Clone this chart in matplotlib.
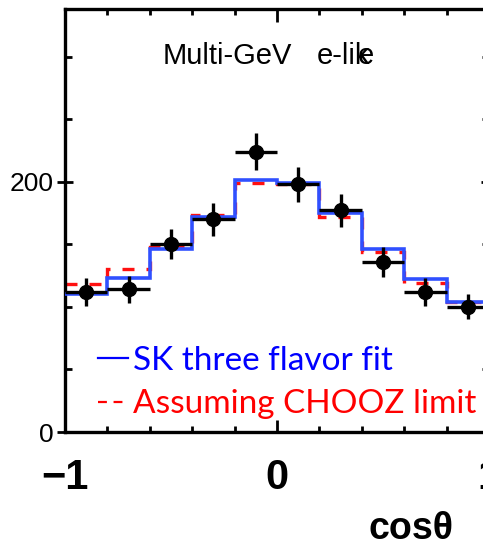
import matplotlib
matplotlib.use('Agg')
import matplotlib.pyplot as plt
from matplotlib.lines import Line2D
from matplotlib.ticker import MultipleLocator, FixedLocator
import numpy as np

# Multi-GeV e-like zenith angle distribution
bin_edges = [-1.0, -0.8, -0.6, -0.4, -0.2, 0.0, 0.2, 0.4, 0.6, 0.8, 1.0]
bin_centers = [-0.9, -0.7, -0.5, -0.3, -0.1, 0.1, 0.3, 0.5, 0.7, 0.9]
data_counts = [112, 114, 150, 170, 224, 198, 177, 136, 112, 100]
data_errors = [11, 11, 12, 13, 15, 14, 13, 12, 11, 10]
sk_fit = [110, 123, 146, 172, 201, 199, 175, 146, 122, 104]
chooz = [118, 130, 148, 173, 199, 198, 172, 144, 119, 104]

fig = plt.figure(figsize=(4.83, 5.49), dpi=100)
# axes runs past the right edge of the picture, like the cropped original
ax = fig.add_axes([65 / 483, 1 - 432 / 549, 424 / 483, 423 / 549])

# red under blue, points on top
ax.stairs(chooz, bin_edges, baseline=None, color='#ff1010', linewidth=2.4,
          linestyle=(0, (3.6, 3.6)), zorder=2)
ax.stairs(sk_fit, bin_edges, baseline=None, color='#3050ff', linewidth=2.6, zorder=3)
ax.errorbar(bin_centers, data_counts, yerr=data_errors, xerr=0.1, fmt='o', color='black',
            markersize=10, elinewidth=2.4, capsize=0, zorder=4)

ax.set_xlim(-1, 1)
ax.set_ylim(0, 338)

for side in ['left', 'bottom', 'top', 'right']:
    ax.spines[side].set_linewidth(2.4)

ax.xaxis.set_major_locator(FixedLocator([-1, 0, 1]))
ax.xaxis.set_minor_locator(MultipleLocator(0.2))
ax.yaxis.set_major_locator(FixedLocator([0, 200]))
ax.yaxis.set_minor_locator(MultipleLocator(50))
ax.tick_params(axis='x', which='major', direction='in', length=9, width=2, top=True, pad=19)
ax.tick_params(axis='x', which='minor', direction='in', length=4.5, width=2, top=True)
ax.tick_params(axis='y', which='major', direction='inout', length=12, width=2, right=True, pad=2)
ax.tick_params(axis='y', which='minor', direction='in', length=5, width=2, right=True)
ax.set_xticklabels(['\u22121', '0', '1'], fontsize=30, fontweight='bold', family='Liberation Sans')
ax.set_yticklabels(['0', '200'], fontsize=19, family='Liberation Sans')

# title, with the overlapping last letter of the original
ax.text((163 - 65) / 424, 0.889, 'Multi-GeV', transform=ax.transAxes, fontsize=21,
        family='Liberation Sans', va='center', ha='left')
ax.text((317 - 65) / 424, 0.889, 'e-lik', transform=ax.transAxes, fontsize=21,
        family='Liberation Sans', va='center', ha='left')
ax.text((358 - 65) / 424, 0.889, 'e', transform=ax.transAxes, fontsize=21,
        family='Liberation Sans', va='center', ha='left')

fig.text(368 / 483, 1 - 529 / 549, 'cos\u03b8', fontsize=27, fontweight='bold',
         family='Liberation Sans', va='center', ha='left')

handles = [Line2D([], [], color='#0000ff', linewidth=1.6),
           Line2D([], [], color='#ff0000', linewidth=1.6, linestyle=(0, (4, 3)))]
ax.legend(handles, ['SK three flavor fit', 'Assuming CHOOZ limit'],
          loc='lower left', bbox_to_anchor=(0.078, 0.03), frameon=False,
          prop={'family': 'Lato', 'size': 24}, labelcolor=['#0000ff', '#ff0000'],
          handlelength=0.9, handletextpad=0.15, labelspacing=0.4,
          borderaxespad=0, borderpad=0)

fig.savefig('out.png', dpi=100)
